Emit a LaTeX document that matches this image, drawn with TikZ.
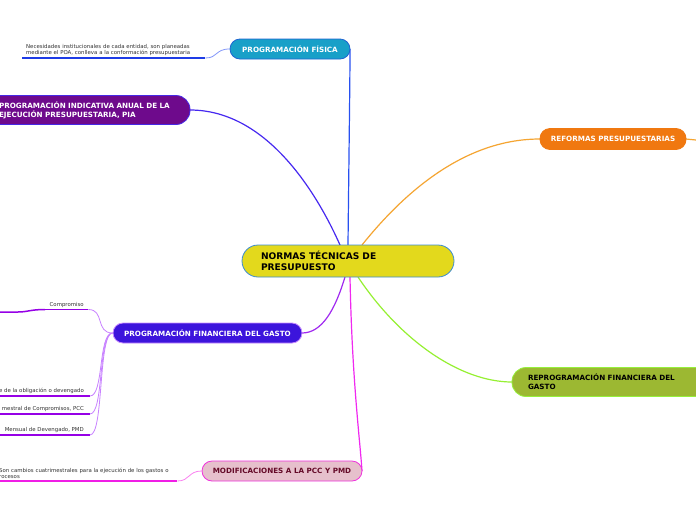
\documentclass[tikz,border=0pt]{standalone}
\usepackage{fontspec}
\setmainfont{DejaVu Sans}
\usetikzlibrary{positioning}

\definecolor{normfill}{RGB}{227,217,28}
\definecolor{normdraw}{RGB}{60,140,210}
\definecolor{fisfill}{RGB}{24,160,200}
\definecolor{fisdraw}{RGB}{30,100,210}
\definecolor{piafill}{RGB}{110,10,140}
\definecolor{piadraw}{RGB}{70,40,230}
\definecolor{refofill}{RGB}{240,120,16}
\definecolor{repfill}{RGB}{156,184,50}
\definecolor{repdraw}{RGB}{150,240,60}
\definecolor{finfill}{RGB}{60,20,220}
\definecolor{findraw}{RGB}{200,140,255}
\definecolor{modfill}{RGB}{230,192,204}
\definecolor{moddraw}{RGB}{240,50,220}
\definecolor{modtext}{RGB}{100,10,40}
\definecolor{lnblue}{RGB}{40,80,240}
\definecolor{lnpia}{RGB}{70,40,240}
\definecolor{lnorange}{RGB}{245,165,50}
\definecolor{lngreen}{RGB}{150,240,50}
\definecolor{lnpurple}{RGB}{160,40,240}
\definecolor{lnmagenta}{RGB}{240,40,240}
\definecolor{subblue}{RGB}{30,60,230}
\definecolor{subbluelt}{RGB}{130,150,250}
\definecolor{subpurple}{RGB}{150,0,230}
\definecolor{subpurplelt}{RGB}{200,130,255}
\definecolor{submag}{RGB}{240,30,230}
\definecolor{submaglt}{RGB}{250,130,240}

\begin{document}
\begin{tikzpicture}[
  x=1pt, y=-1pt,
  topic/.style={rounded corners=10pt, line width=0.8pt, minimum height=20pt,
    inner sep=0pt, font=\fontsize{7.2}{8.8}\selectfont\bfseries, align=center},
  subtxt/.style={inner xsep=4pt, inner ysep=2pt, align=left,
    font=\fontsize{5.4}{6.6}\selectfont, text=black!80},
  branch/.style={line width=1.2pt},
  subln/.style={line width=1.5pt},
  subcv/.style={line width=0.8pt},
]
\useasboundingbox (0,0) rectangle (696,520);
\clip (0,0) rectangle (696,520);
\fill[white] (0,0) rectangle (696,520);

% ---------------- branches from the central topic ----------------
\coordinate (nortop) at (348,245);
\coordinate (norbot) at (348,277);
\draw[branch, lnblue] (nortop) .. controls (349,150) and (350,80) .. (350,49);
\draw[branch, lnpia] ([xshift=-8pt]nortop) .. controls (320,200) and (270,110) .. (190,110);
\draw[branch, lnorange] ([xshift=14pt]nortop) .. controls (410,185) and (470,139) .. (540,139);
\draw[branch, lngreen] ([xshift=10pt]norbot) .. controls (400,340) and (460,382) .. (512,382);
\draw[branch, lnpurple] ([xshift=-3pt]norbot) .. controls (335,310) and (322,333) .. (302,333);
\draw[branch, lnmagenta] ([xshift=2pt]norbot) .. controls (352,380) and (360,440) .. (362,471);
\draw[branch, lnorange] (686,139) -- (696,140);

% ---------------- topics ----------------
\node[topic, fill=normfill, draw=normdraw, rounded corners=16pt, minimum width=212pt,
  minimum height=32pt, text width=174pt, align=left, font=\fontsize{9.1}{11}\selectfont\bfseries]
  (norma) at (348,261) {NORMAS TÉCNICAS DE\\PRESUPUESTO};
\node[topic, fill=fisfill, draw=fisdraw, text=white, minimum width=120pt]
  (fisica) at (290,49) {PROGRAMACIÓN FÍSICA};
\node[topic, fill=piafill, draw=piadraw, text=white, rounded corners=14pt,
  minimum width=210pt, minimum height=29pt, text width=172pt, align=left]
  (pia) at (85,110) {PROGRAMACIÓN INDICATIVA ANUAL DE LA\\EJECUCIÓN PRESUPUESTARIA, PIA};
\node[topic, fill=refofill, draw=refofill, text=white, minimum width=146pt, minimum height=21pt]
  (reforma) at (613,139) {REFORMAS PRESUPUESTARIAS};
\node[topic, fill=repfill, draw=repdraw, rounded corners=14pt, minimum width=208pt,
  minimum height=29pt, text width=176pt, align=left]
  (reprog) at (616,382) {REPROGRAMACIÓN FINANCIERA DEL\\GASTO};
\node[topic, fill=finfill, draw=findraw, text=white, minimum width=189pt]
  (finan) at (207.5,333) {PROGRAMACIÓN FINANCIERA DEL GASTO};
\node[topic, fill=modfill, draw=moddraw, text=modtext, minimum width=160pt]
  (modif) at (282,471) {MODIFICACIONES A LA PCC Y PMD};

% ---------------- Programación física: subtopic ----------------
\node[subtxt, anchor=south west, minimum width=183pt, text width=175pt]
  (necesidad) at (22,58) {Necesidades institucionales de cada entidad, son planeadas\\
  mediante el POA, conlleva a la conformación presupuestaria};
\draw[subln, subblue] (necesidad.south west) -- (necesidad.south east);
\draw[subcv, subbluelt] (necesidad.south east) .. controls (218,58) and (215,49) .. (fisica.west);

% ---------------- Programación financiera: subtopics ----------------
\node[subtxt, anchor=south west, minimum width=43pt, align=center]
  (compro) at (45,309.5) {Compromiso};
\coordinate (comprofin) at (0,312);
\draw[subln, subpurple] (compro.south west) -- (compro.south east);
\draw[subln, subpurple] (compro.south west) .. controls (30,309.5) and (28,312) .. (18,312) -- (comprofin);
\draw[subcv, subpurplelt] (compro.south east) .. controls (105,309.5) and (95,333) .. (finan.west);

\node[subtxt, anchor=south east, inner xsep=6pt] (oblig) at (90,396) {e de la obligación o devengado};
\node[subtxt, anchor=south east, inner xsep=6pt] (pcc) at (90,414) {mestral de Compromisos, PCC};
\node[subtxt, anchor=south east, inner xsep=6pt] (pmd) at (90,435) {Mensual de Devengado, PMD};
\foreach \nm/\yy in {oblig/396, pcc/414, pmd/435} {
  \coordinate (\nm left) at (0,\yy);
  \draw[subln, subpurple] (\nm left) -- (\nm.south east);
  \draw[subcv, subpurplelt] (\nm.south east) .. controls (104,\yy) and (98,333) .. (finan.west);
}

% ---------------- Modificaciones: subtopic ----------------
\node[subtxt, anchor=south west, minimum width=180pt, text width=176pt, inner xsep=1pt]
  (cambios) at (-3,481) {Son cambios cuatrimestrales para la ejecución de los gastos o\\rocesos};
\draw[subln, submag] (cambios.south west) -- (cambios.south east);
\draw[subcv, submaglt] (cambios.south east) .. controls (190,481) and (188,471) .. (modif.west);
\end{tikzpicture}
\end{document}
